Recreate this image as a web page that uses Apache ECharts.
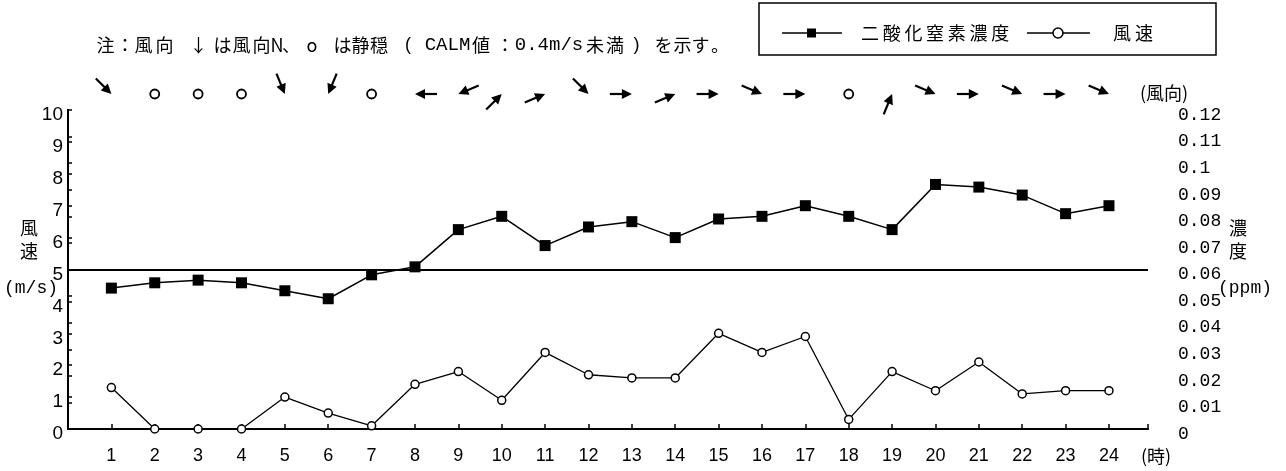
<!DOCTYPE html>
<html>
<head>
<meta charset="utf-8">
<script src="https://cdn.jsdelivr.net/npm/echarts@6/dist/echarts.min.js"></script>
<style>
  html, body { margin: 0; padding: 0; background: #fff; }
  #main { width: 1286px; height: 471px; }
</style>
</head>
<body>
<div id="main"></div>
<script>
// 時刻
var hours = [1, 2, 3, 4, 5, 6, 7, 8, 9, 10, 11, 12, 13, 14, 15, 16, 17, 18, 19, 20, 21, 22, 23, 24];
// 二酸化窒素濃度 (ppm)
var no2 = [0.053, 0.055, 0.056, 0.055, 0.052, 0.049, 0.058, 0.061, 0.075, 0.080, 0.069, 0.076,
           0.078, 0.072, 0.079, 0.080, 0.084, 0.080, 0.075, 0.092, 0.091, 0.088, 0.081, 0.084];
// 風速 (m/s)
var windSpeed = [1.3, 0, 0, 0, 1.0, 0.5, 0.1, 1.4, 1.8, 0.9, 2.4, 1.7,
                 1.6, 1.6, 3.0, 2.4, 2.9, 0.3, 1.8, 1.2, 2.1, 1.1, 1.2, 1.2];
// 風向 (C = 静穏)
var windDir = ['NW', 'C', 'C', 'C', 'NNW', 'NNE', 'C', 'E', 'ENE', 'SW', 'WSW', 'NW',
               'W', 'WSW', 'W', 'WNW', 'W', 'C', 'SSW', 'WNW', 'W', 'WNW', 'W', 'WNW'];
// 環境基準線 (ppm)
var standardLine = 0.06;

var dirDeg = {
    N: 0, NNE: 22.5, NE: 45, ENE: 67.5, E: 90, ESE: 112.5, SE: 135, SSE: 157.5,
    S: 180, SSW: 202.5, SW: 225, WSW: 247.5, W: 270, WNW: 292.5, NW: 315, NNW: 337.5
};

var JP = '"Noto Sans CJK JP", sans-serif';
var MONO = '"Liberation Mono", "DejaVu Sans Mono", monospace';
var SANS = '"Liberation Sans", Arial, sans-serif';

// 1文字ずつ置く (字間を広げるため)
function glyphs(list, y, size, family) {
    return list.map(function (g) {
        return {
            type: 'text',
            x: g[1], y: y,
            style: {
                text: g[0],
                fill: '#000',
                font: (g[3] || size) + 'px ' + (g[2] || family),
                align: 'center',
                verticalAlign: 'middle'
            }
        };
    });
}

function label(text, x, y, size, family) {
    return { type: 'text', x: x, y: y,
             style: { text: text, font: size + 'px ' + family, fill: '#000', align: 'center', verticalAlign: 'middle' } };
}

var noteGlyphs = [
    ['注', 105.5], ['：', 125], ['風', 143.5], ['向', 164.5], ['↓', 198.5],
    ['は', 222.5], ['風', 241.5], ['向', 261.5], ['N', 277], ['、', 291],
    ['o', 312], ['は', 342.5], ['静', 360.5], ['穏', 379], ['(', 408, SANS],
    ['CALM', 447.5, MONO, 19], ['値', 481], ['：', 505], ['0.4m/s', 549, MONO, 19],
    ['未', 595], ['満', 615], [')', 636.5, SANS], ['を', 663.5], ['示', 682.5],
    ['す', 700.5], ['。', 720]
];

var legendGlyphs = [
    ['二', 870], ['酸', 891.7], ['化', 913.4], ['窒', 935.1], ['素', 956.8],
    ['濃', 978.5], ['度', 1000.2], ['風', 1122], ['速', 1144]
];

var graphics = [
    // 凡例の枠
    { type: 'rect', shape: { x: 759, y: 3, width: 457, height: 52 },
      style: { fill: 'none', stroke: '#000', lineWidth: 1.5 } },
    { type: 'line', shape: { x1: 782, y1: 33, x2: 842, y2: 33 }, style: { stroke: '#000', lineWidth: 1.5 } },
    { type: 'rect', shape: { x: 807, y: 28.5, width: 9, height: 9 }, style: { fill: '#000' } },
    { type: 'line', shape: { x1: 1027, y1: 33, x2: 1090, y2: 33 }, style: { stroke: '#000', lineWidth: 1.5 } },
    { type: 'circle', shape: { cx: 1058, cy: 33, r: 5 }, style: { fill: '#fff', stroke: '#000', lineWidth: 1.5 } },
    // 軸の名前
    label('風', 29, 228, 18, JP),
    label('速', 29, 251, 18, JP),
    label('(m/s)', 31, 288, 18, MONO),
    label('濃', 1238, 228, 18, JP),
    label('度', 1238, 251, 18, JP),
    label('(ppm)', 1245, 288, 18, MONO),
    label('(風向)', 1164, 93, 18, JP),
    label('(時)', 1156, 456, 18, JP)
].concat(glyphs(noteGlyphs, 45, 18, JP)).concat(glyphs(legendGlyphs, 33, 18, JP));

var chart = echarts.init(document.getElementById('main'));

var xBase = {
    type: 'value',
    min: 0,
    max: 24.9,
    interval: 1,
    splitLine: { show: false },
    axisLine: { lineStyle: { color: '#000', width: 2 } }
};

var option = {
    animation: false,
    backgroundColor: '#fff',
    grid: { left: 68, right: 138, top: 110, bottom: 42 },
    xAxis: [
        Object.assign({}, xBase, {
            position: 'bottom',
            axisTick: { inside: true, length: 5, lineStyle: { color: '#000', width: 1.5 } },
            axisLabel: {
                margin: 18,
                color: '#000',
                fontSize: 18,
                fontFamily: SANS,
                formatter: function (v) {
                    return (v >= 1 && v <= 24 && Math.round(v) === v) ? String(v) : '';
                }
            }
        }),
        Object.assign({}, xBase, {
            position: 'top',
            axisTick: { inside: false, length: 3, lineStyle: { color: '#000', width: 1.5 } },
            axisLabel: { show: false }
        })
    ],
    yAxis: [
        {
            type: 'value',
            position: 'left',
            min: 0,
            max: 10,
            interval: 1,
            splitLine: { show: false },
            axisLine: { show: true, lineStyle: { color: '#000', width: 2 } },
            axisTick: { show: true, inside: true, length: 4, lineStyle: { color: '#000', width: 1.5 } },
            axisLabel: {
                margin: 5,
                color: '#000',
                fontSize: 19,
                fontFamily: SANS,
                verticalAlign: 'top',
                lineHeight: 10
            }
        },
        {
            type: 'value',
            position: 'right',
            min: 0,
            max: 0.12,
            interval: 0.01,
            splitLine: { show: false },
            axisLine: { show: true, lineStyle: { color: '#000', width: 2 } },
            axisTick: { show: true, inside: false, length: 4, lineStyle: { color: '#000', width: 1.5 } },
            axisLabel: {
                margin: 30,
                color: '#000',
                fontSize: 18,
                fontFamily: MONO,
                verticalAlign: 'top',
                lineHeight: 10,
                formatter: function (v) { return String(parseFloat(v.toFixed(2))); }
            }
        }
    ],
    series: [
        {
            name: '風速',
            type: 'line',
            xAxisIndex: 0,
            yAxisIndex: 0,
            data: hours.map(function (h, i) { return [h, windSpeed[i]]; }),
            symbol: 'circle',
            symbolSize: 8,
            itemStyle: { color: '#fff', borderColor: '#000', borderWidth: 1.5 },
            lineStyle: { color: '#000', width: 1.3 },
            z: 3
        },
        {
            name: '二酸化窒素濃度',
            type: 'line',
            xAxisIndex: 0,
            yAxisIndex: 1,
            data: hours.map(function (h, i) { return [h, no2[i]]; }),
            symbol: 'rect',
            symbolSize: 11,
            itemStyle: { color: '#000' },
            lineStyle: { color: '#000', width: 1.5 },
            markLine: {
                silent: true,
                symbol: 'none',
                label: { show: false },
                lineStyle: { color: '#000', type: 'solid', width: 2 },
                data: [{ yAxis: standardLine }]
            },
            z: 4
        },
        {
            name: '風向',
            type: 'custom',
            xAxisIndex: 0,
            yAxisIndex: 0,
            data: hours.map(function (h) { return [h, 0]; }),
            renderItem: function (params, api) {
                var d = windDir[params.dataIndex];
                var p = api.coord([api.value(0), 10]);
                var x = p[0], y = p[1] - 16;
                if (d === 'C') {
                    return { type: 'circle', shape: { cx: x, cy: y, r: 4.5 },
                             style: { fill: '#fff', stroke: '#000', lineWidth: 1.8 } };
                }
                var b = (dirDeg[d] + 180) * Math.PI / 180;
                var dx = Math.sin(b), dy = -Math.cos(b);
                var L = 22, hl = 10, hw = 5;
                var tx = x - dx * L, ty = y - dy * L;
                var bx = x - dx * hl, by = y - dy * hl;
                return {
                    type: 'group',
                    children: [
                        { type: 'line', shape: { x1: tx, y1: ty, x2: bx + dx * 2, y2: by + dy * 2 },
                          style: { stroke: '#000', lineWidth: 2.2 } },
                        { type: 'polygon',
                          shape: { points: [[x, y], [bx - dy * hw, by + dx * hw], [bx + dy * hw, by - dx * hw]] },
                          style: { fill: '#000' } }
                    ]
                };
            },
            z: 5
        }
    ],
    graphic: graphics
};

chart.setOption(option);
</script>
</body>
</html>
